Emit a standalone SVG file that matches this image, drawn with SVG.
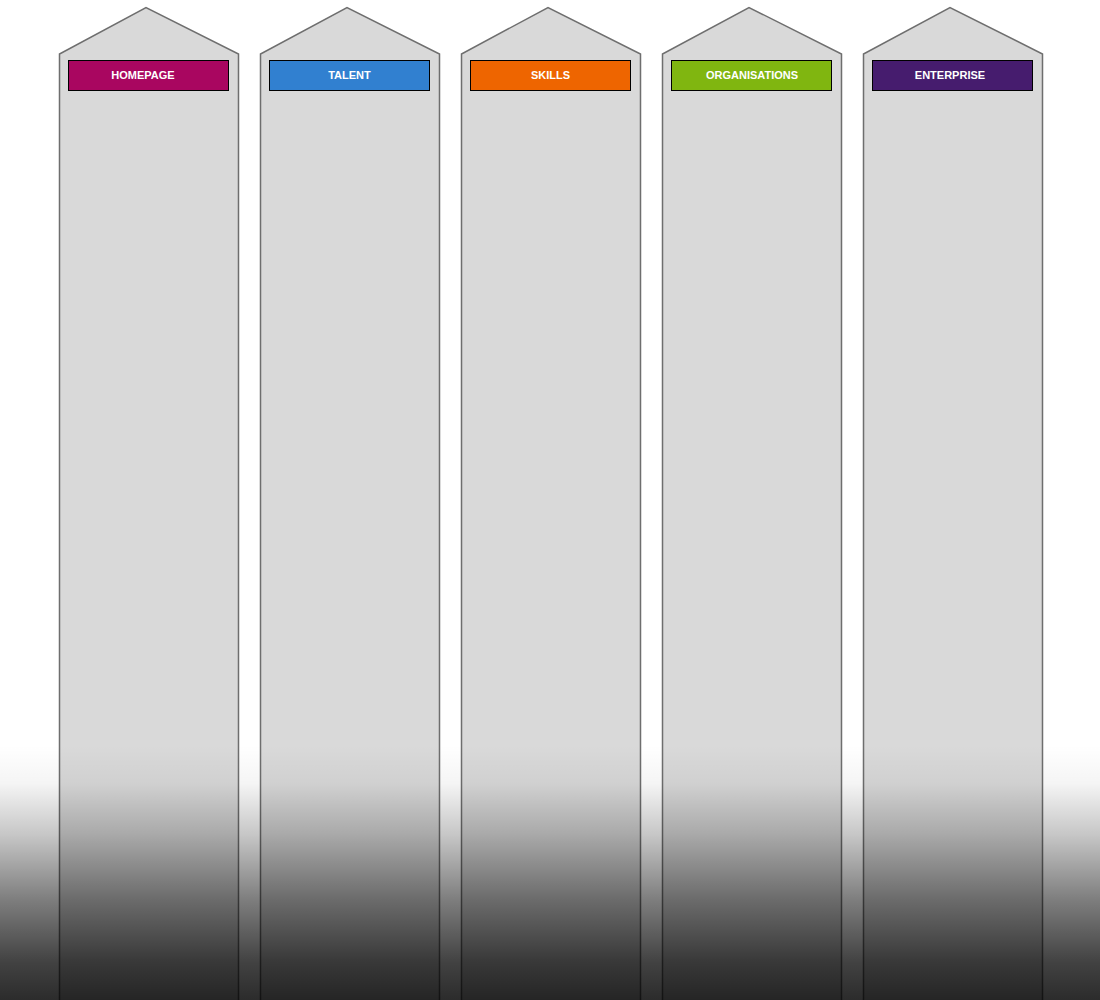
<svg xmlns="http://www.w3.org/2000/svg" width="1100" height="1000" viewBox="0 0 1100 1000">
<defs>
<style>
.pillar{fill:#d9d9d9;stroke:#6e6e6e;stroke-width:1.5}
.lbl{stroke:#000;stroke-width:1}
.t{font-family:"Liberation Sans",Arial,sans-serif;font-size:11px;font-weight:bold;fill:#fff;text-anchor:middle}
</style>
<linearGradient id="shade" x1="0" y1="745" x2="0" y2="1000" gradientUnits="userSpaceOnUse">
<stop offset="0" stop-color="#000" stop-opacity="0"/>
<stop offset="0.15" stop-color="#000" stop-opacity="0.04"/>
<stop offset="0.35" stop-color="#000" stop-opacity="0.22"/>
<stop offset="0.6" stop-color="#000" stop-opacity="0.5"/>
<stop offset="0.85" stop-color="#000" stop-opacity="0.74"/>
<stop offset="1" stop-color="#000" stop-opacity="0.83"/>
</linearGradient>
</defs>
<rect width="1100" height="1000" fill="#fff"/>
<g id="homepage">
<path class="pillar" d="M59.5,1001 V54 L146,7.5 L238.5,54 V1001"/>
<rect class="lbl" x="68.5" y="60.5" width="160" height="30" fill="#a90660"/>
<text class="t" x="143" y="79">HOMEPAGE</text>
</g>
<g id="talent">
<path class="pillar" d="M260.5,1001 V54 L347,7.5 L439.5,54 V1001"/>
<rect class="lbl" x="269.5" y="60.5" width="160" height="30" fill="#3180d0"/>
<text class="t" x="349.5" y="79">TALENT</text>
</g>
<g id="skills">
<path class="pillar" d="M461.5,1001 V54 L548,7.5 L640.5,54 V1001"/>
<rect class="lbl" x="470.5" y="60.5" width="160" height="30" fill="#ee6500"/>
<text class="t" x="550.5" y="79">SKILLS</text>
</g>
<g id="organisations">
<path class="pillar" d="M662.5,1001 V54 L749,7.5 L841.5,54 V1001"/>
<rect class="lbl" x="671.5" y="60.5" width="160" height="30" fill="#80b610"/>
<text class="t" x="752" y="79">ORGANISATIONS</text>
</g>
<g id="enterprise">
<path class="pillar" d="M863.5,1001 V54 L950,7.5 L1042.5,54 V1001"/>
<rect class="lbl" x="872.5" y="60.5" width="160" height="30" fill="#461c6e"/>
<text class="t" x="950" y="79">ENTERPRISE</text>
</g>
<g id="connectors"></g>
<rect x="0" y="740" width="1100" height="260" fill="url(#shade)"/>
</svg>
